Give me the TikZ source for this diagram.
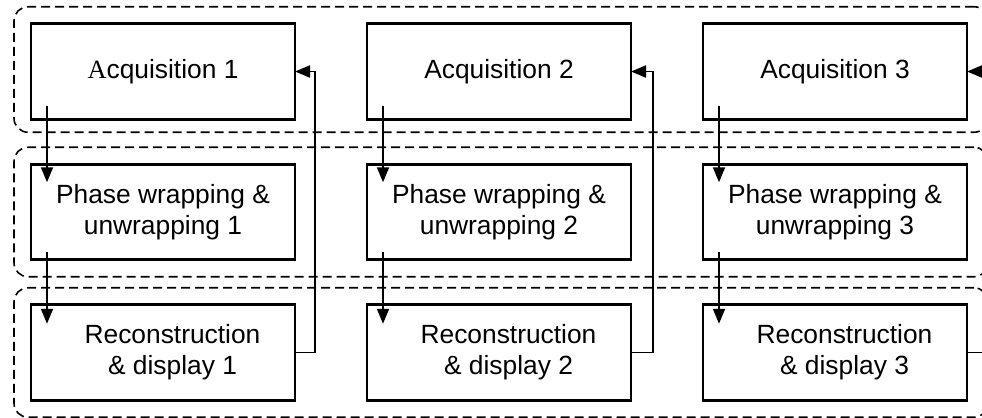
\documentclass[tikz,border=0pt]{standalone}
\usepackage{fontspec}
\setmainfont{Liberation Sans}
\newfontfamily\serifA{Liberation Serif}
\usetikzlibrary{calc, arrows.meta, positioning, fit}

\begin{document}
\begin{tikzpicture}[
    node distance=0.9cm and 1.44cm,
    box/.style={
        rectangle, draw=black, line width=1.6pt, outer sep=0pt,
        minimum width=5.28cm, minimum height=1.91cm,
        align=center, font=\fontsize{15}{17.8}\selectfont
    },
    group/.style={
        draw=black, line width=0.9pt, dash pattern=on 0.18cm off 0.1cm,
        rounded corners=0.28cm, inner sep=0.34cm
    },
    arr/.style={-{Triangle[length=0.3cm, width=0.24cm]}, line width=1.1pt},
]

\useasboundingbox (0,0) rectangle (19.64,-8.34);

% Acquisition row
\node[box] (acq1) at (3.26,-1.43) {{\serifA A}cquisition 1};
\node[box, right=of acq1] (acq2) {Acquisition 2};
\node[box, right=of acq2] (acq3) {Acquisition 3};

% Phase row
\node[box, below=of acq1] (phase1) {Phase wrapping \&\\unwrapping 1};
\node[box, below=of acq2] (phase2) {Phase wrapping \&\\unwrapping 2};
\node[box, below=of acq3] (phase3) {Phase wrapping \&\\unwrapping 3};

% Reconstruction row
\node[box, below=of phase1] (rec1) {\hspace*{0.38cm}Reconstruction\\\hspace*{0.38cm}\& display 1};
\node[box, below=of phase2] (rec2) {\hspace*{0.38cm}Reconstruction\\\hspace*{0.38cm}\& display 2};
\node[box, below=of phase3] (rec3) {\hspace*{0.38cm}Reconstruction\\\hspace*{0.38cm}\& display 3};

% Dashed groups round each row (open at the right edge)
\coordinate (acqbot) at ($(acq1.south)+(0,0.08)$);
\coordinate (acqend) at ($(acq3.east)+(0.08,0)$);
\coordinate (phaseend) at ($(phase3.east)+(0.08,0)$);
\coordinate (recend) at ($(rec3.east)+(0.08,0)$);
\node[group, fit=(acq1.north west)(acqbot)(acqend)] (grpacq) {};
\node[group, fit=(phase1)(phaseend)] (grpphase) {};
\node[group, fit=(rec1)(recend)] (grprec) {};

% Downward arrows in each column
\foreach \i in {1,2,3} {
    \draw[arr] ($(acq\i.south west)+(0.32,0.26)$) -- ($(phase\i.north west)+(0.32,-0.36)$);
    \draw[arr] ($(phase\i.south west)+(0.32,0.16)$) -- ($(rec\i.north west)+(0.32,-0.38)$);
}

% Feedback from reconstruction to next acquisition
\draw[arr] (rec1.east) -- ++(0.4,0) |- (acq1.east);
\draw[arr] (rec2.east) -- ++(0.44,0) |- (acq2.east);
\coordinate (recout) at ($(rec3.east)+(0.5,0)$);
\coordinate (acqin) at ($(acq3.east)+(0.5,0)$);
\draw[line width=1.1pt] (rec3.east) -- (recout);
\draw[arr] (acqin) -- (acq3.east);

\end{tikzpicture}
\end{document}
